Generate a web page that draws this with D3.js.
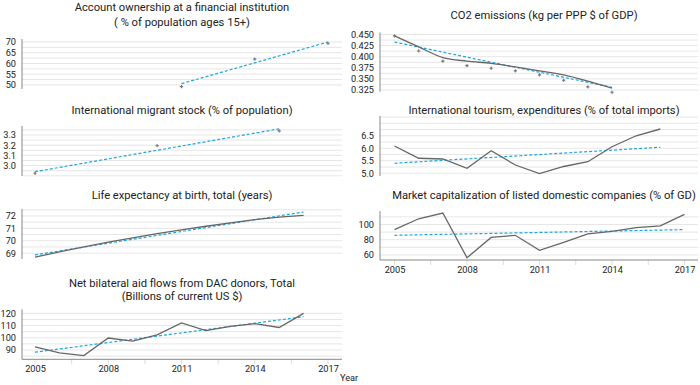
<!DOCTYPE html>
<html>
<head>
<meta charset="utf-8">
<script src="https://cdn.jsdelivr.net/npm/d3@7"></script>
<style>
  body { margin: 0; background: #fff; }
  text { font-family: Roboto, "Noto Sans", sans-serif; fill: #222; }
</style>
</head>
<body>
<svg id="chart" width="700" height="385"></svg>
<script>
const years = [2005, 2006, 2007, 2008, 2009, 2010, 2011, 2012, 2013, 2014, 2015, 2016, 2017];
const yearTicks = [2005, 2008, 2011, 2014, 2017];

// values, null = no data that year
const accountPoints = [null, null, null, null, null, null, 49.2, null, null, 62.0, null, null, 69.4];
const accountTrend = [50.6, 70.0];           // 2011 -> 2017

const co2Line = [0.447, 0.422, 0.398, 0.390, 0.385, 0.377, 0.368, 0.359, 0.345, 0.329, null, null, null];
const co2Points = [0.447, 0.413, 0.390, 0.380, 0.374, 0.368, 0.359, 0.347, 0.332, 0.320, null, null, null];
const co2Trend = [0.433, 0.331];             // 2005 -> 2014

const migrantPoints = [2.925, null, null, null, null, 3.195, null, null, null, null, 3.34, null, null];
const migrantTrend = [2.94, 3.36];           // 2005 -> 2015

const tourismLine = [6.09, 5.60, 5.57, 5.20, 5.90, 5.33, 4.99, 5.27, 5.46, 6.06, 6.50, 6.77, null];
const tourismTrend = [5.40, 6.04];           // 2005 -> 2016

const lifeLine = [68.68, 69.1, 69.5, 69.89, 70.23, 70.57, 70.88, 71.17, 71.45, 71.70, 71.9, 72.05, null];
const lifeTrend = [68.86, 72.32];            // 2005 -> 2016

const marketLine = [93.3, 107.5, 115, 56.4, 83, 85.8, 66.2, 76.4, 87.6, 91, 96, 98.2, 113.3];
const marketTrend = [85.8, 93.3];            // 2005 -> 2017

const aidLine = [92.6, 87.7, 85.4, 99.8, 97.3, 102.4, 112.2, 105.8, 109.4, 111.5, 108.4, 120, null];
const aidTrend = [88.2, 117.2];              // 2005 -> 2016

const left = { axisX: 22, x0: 35, x1: 328, right: 342, titleX: 182 };
const right = { axisX: 380, x0: 394.5, x1: 684.5, right: 698, titleX: 544 };

const panels = [
    { col: left, title: ["Account ownership at a financial institution", "( % of population ages 15+)"], titleY: [10.5, 25.5],
      top: 39, bottom: 89, domain: [48.1, 71.4], ticks: [50, 55, 60, 65, 70], grid: 2.5, fmt: d3.format("d"),
      points: accountPoints, trendYears: [2011, 2017], trend: accountTrend },
    { col: right, title: ["CO2 emissions (kg per PPP $ of GDP)"], titleY: [19],
      top: 32.5, bottom: 91.7, domain: [0.3212, 0.4545], ticks: [0.325, 0.35, 0.375, 0.4, 0.425, 0.45], grid: 0.0125, fmt: d3.format(".3f"),
      line: co2Line, curve: d3.curveMonotoneX, points: co2Points, trendYears: [2005, 2014], trend: co2Trend },
    { col: left, title: ["International migrant stock (% of population)"], titleY: [114],
      top: 126, bottom: 176, domain: [2.898, 3.388], ticks: [3.0, 3.1, 3.2, 3.3], grid: 0.05, fmt: d3.format(".1f"),
      points: migrantPoints, trendYears: [2005, 2015], trend: migrantTrend },
    { col: right, title: ["International tourism, expenditures (% of total imports)"], titleY: [114],
      top: 116, bottom: 176, domain: [4.89, 7.29], ticks: [5.0, 5.5, 6.0, 6.5], grid: 0.25, fmt: d3.format(".1f"),
      line: tourismLine, trendYears: [2005, 2016], trend: tourismTrend },
    { col: left, title: ["Life expectancy at birth, total (years)"], titleY: [199],
      top: 209, bottom: 259, domain: [68.53, 72.56], ticks: [69, 70, 71, 72], grid: 0.5, fmt: d3.format("d"),
      line: lifeLine, trendYears: [2005, 2016], trend: lifeTrend },
    { col: right, title: ["Market capitalization of listed domestic companies (% of GD)"], titleY: [199],
      top: 211, bottom: 260, domain: [53.4, 117.7], ticks: [60, 80, 100], grid: 10, fmt: d3.format("d"),
      line: marketLine, trendYears: [2005, 2017], trend: marketTrend, xAxis: true },
    { col: left, title: ["Net bilateral aid flows from DAC donors, Total", "(Billions of current US $)"], titleY: [286.5, 300],
      top: 309.3, bottom: 359.3, domain: [82.4, 123.3], ticks: [90, 100, 110, 120], grid: 5, fmt: d3.format("d"),
      line: aidLine, trendYears: [2005, 2016], trend: aidTrend, xAxis: true }
];

const svg = d3.select("#chart");

panels.forEach(p => {
    const g = svg.append("g");
    const x = d3.scaleLinear().domain([2005, 2017]).range([p.col.x0, p.col.x1]);
    const y = d3.scaleLinear().domain(p.domain).range([p.bottom, p.top]);

    // title
    const t = g.append("text")
        .attr("text-anchor", "middle")
        .style("font-size", "11.2px");
    p.title.forEach((s, i) => {
        t.append("tspan").attr("x", p.col.titleX).attr("y", p.titleY[i]).text(s);
    });

    // gridlines at half steps
    const first = Math.ceil(p.domain[0] / p.grid - 1e-6);
    const last = Math.floor(p.domain[1] / p.grid + 1e-6);
    const gridVals = d3.range(first, last + 1).map(k => k * p.grid);
    g.selectAll(".grid")
        .data(gridVals)
        .enter()
        .append("line")
            .attr("x1", p.col.axisX)
            .attr("x2", p.col.right)
            .attr("y1", d => y(d))
            .attr("y2", d => y(d))
            .attr("stroke", "#e6e6e6")
            .attr("stroke-width", 1);

    // y axis
    const yAxis = g.append("g")
        .attr("transform", `translate(${p.col.axisX},0)`)
        .call(d3.axisLeft(y).tickValues(p.ticks).tickFormat(p.fmt).tickSize(0).tickPadding(6));
    yAxis.select(".domain").remove();
    yAxis.selectAll("text").style("font-size", "9.2px").attr("fill", "#111");
    g.append("line")
        .attr("x1", p.col.axisX).attr("x2", p.col.axisX)
        .attr("y1", p.top).attr("y2", p.bottom)
        .attr("stroke", "#888");

    // x axis only on the bottom panels
    if (p.xAxis) {
        const minor = d3.range(0, 9).map(k => 2005 + k * 1.5);
        g.selectAll(".minor")
            .data(minor)
            .enter()
            .append("line")
                .attr("x1", d => x(d)).attr("x2", d => x(d))
                .attr("y1", p.bottom).attr("y2", p.bottom + 5)
                .attr("stroke", "#ddd");
        g.append("line")
            .attr("x1", p.col.axisX).attr("x2", p.col.right)
            .attr("y1", p.bottom).attr("y2", p.bottom)
            .attr("stroke", "#888");
        const xAxis = g.append("g")
            .attr("transform", `translate(0,${p.bottom})`)
            .call(d3.axisBottom(x).tickValues(yearTicks).tickFormat(d3.format("d")).tickSize(0).tickPadding(6));
        xAxis.select(".domain").remove();
        xAxis.selectAll("text").style("font-size", "9.2px").attr("fill", "#111");
    }

    const rows = years.map((yr, i) => ({ year: yr, line: p.line ? p.line[i] : null, point: p.points ? p.points[i] : null }));

    // trend
    const trendPts = p.trendYears.map((yr, i) => ({ year: yr, v: p.trend[i] }));
    g.append("path")
        .datum(trendPts)
        .attr("fill", "none")
        .attr("stroke", "#1aa7e0")
        .attr("stroke-width", 1.2)
        .attr("stroke-dasharray", "3,2")
        .attr("d", d3.line().x(d => x(d.year)).y(d => y(d.v)));

    // data line
    if (p.line) {
        g.append("path")
            .datum(rows)
            .attr("fill", "none")
            .attr("stroke", "#666")
            .attr("stroke-width", 1.3)
            .attr("d", d3.line()
                .defined(d => d.line != null)
                .curve(p.curve || d3.curveLinear)
                .x(d => x(d.year))
                .y(d => y(d.line)));
    }

    // markers
    if (p.points) {
        g.selectAll(".pt")
            .data(rows.filter(d => d.point != null))
            .enter()
            .append("path")
                .attr("transform", d => `translate(${x(d.year)},${y(d.point)})`)
                .attr("d", d3.symbol(d3.symbolCross).size(6))
                .attr("fill", "#777");
    }
});

svg.append("text")
    .attr("x", 340)
    .attr("y", 381)
    .style("font-size", "9.2px")
    .text("Year");
</script>
</body>
</html>
